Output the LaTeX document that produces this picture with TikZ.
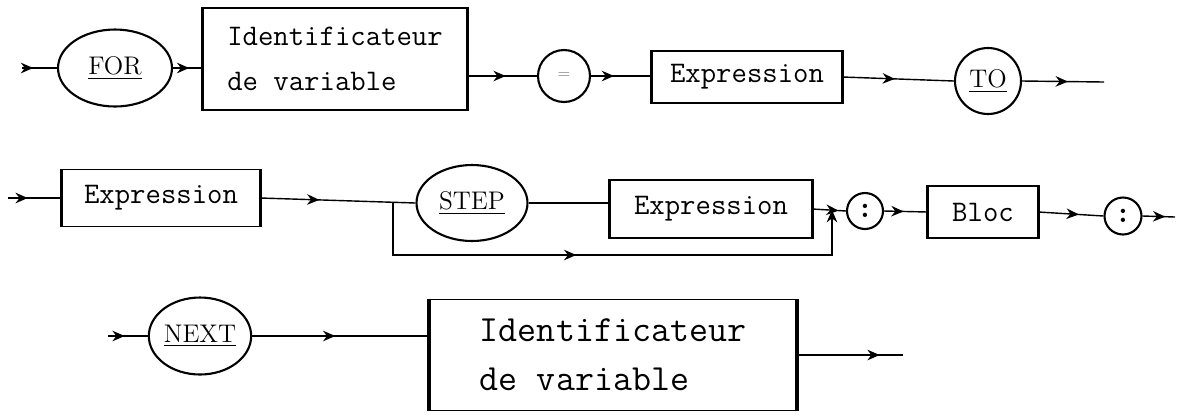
\documentclass[tikz,border=0pt]{standalone}
\usepackage{tikz}
\usetikzlibrary{shapes.geometric,arrows.meta,decorations.markings}

\begin{document}
\begin{tikzpicture}[x=0.02cm,y=-0.02cm,line width=0.8pt,
		fleche/.style={postaction={decorate},decoration={markings,
			mark=at position #1 with {\arrow{Stealth[length=7pt,width=6pt]}}}},
		fleche/.default=0.5]
		\tikzstyle{motcle}=[ellipse,draw,line width=1.2pt,inner sep=0pt,font=\fontsize{14.5}{16}\selectfont]
		\tikzstyle{rond}=[circle,draw,line width=1.2pt,inner sep=0pt]
		\tikzstyle{deuxpoints}=[rond,font=\fontsize{17}{17}\selectfont\bfseries]
		\tikzstyle{boite}=[rectangle,draw,line width=0.6pt,inner sep=0pt,align=left,
			font=\ttfamily\fontsize{17}{26}\selectfont]
		
		\useasboundingbox (0,0) rectangle (1177,414);
		
		% FOR ... = ... TO
		\node[motcle,minimum width=2.28cm,minimum height=1.54cm] (for) at (115,68) {\underline{FOR}};
		\node[boite,minimum width=5.28cm,minimum height=2.04cm] (id1) at (335,59) {Identificateur\\de variable};
		\node[rond,minimum size=1.04cm,font=\small,text=gray] (eg) at (564,76) {$=$};
		\node[boite,minimum width=3.8cm,minimum height=1.04cm] (ex1) at (747,77) {Expression};
		\node[rond,minimum size=1.32cm,font=\fontsize{14.5}{16}\selectfont] (to) at (988,81) {\underline{TO}};
		
		% Expression [STEP Expression] : Bloc :
		\node[boite,minimum width=3.96cm,minimum height=1.14cm] (ex2) at (161,198) {Expression};
		\node[motcle,minimum width=2.22cm,minimum height=1.52cm] (step) at (472,203) {\underline{STEP}};
		\node[boite,minimum width=4.04cm,minimum height=1.16cm] (ex3) at (711,209) {Expression};
		\node[deuxpoints,minimum size=0.72cm] (dp1) at (865,211) {:};
		\node[boite,minimum width=2.2cm,minimum height=1.04cm] (bloc) at (983,212) {Bloc};
		\node[deuxpoints,minimum size=0.74cm] (dp2) at (1123,216) {:};
		
		% NEXT ...
		\node[motcle,minimum width=1.8cm,minimum height=1.54cm] (next) at (200,336) {\underline{NEXT}};
		\node[boite,minimum width=7.34cm,minimum height=2.22cm,
			font=\ttfamily\fontsize{21}{28}\selectfont] (id2) at (613,355) {Identificateur\\de variable};
		
		% bords verticaux epais des boites
		\foreach \b in {id1,ex1,ex2,ex3,bloc,id2}
			\draw[line width=1.8pt] (\b.north west) -- (\b.south west) (\b.north east) -- (\b.south east);
		
		\coordinate (e1) at (22,68);
		\coordinate (s1) at (1104,82);
		\coordinate (e2) at (8,198);
		\coordinate (fourche) at (393,202);
		\coordinate (jonction) at (832,210);
		\coordinate (s2) at (1175,217);
		\coordinate (e3) at (108,336);
		\coordinate (s3) at (903,355);
		
		\draw[fleche=0.32] (e1) -- (for.west);
		\draw[fleche=0.55] (for.east) -- (for.east -| id1.west);
		\draw[fleche=0.55] (eg.west -| id1.east) -- (eg.west);
		\draw[fleche=0.38] (eg.east) -- (eg.east -| ex1.west);
		\draw[fleche=0.47] (ex1.east) -- (to.west);
		\draw[fleche=0.56] (to.east) -- (s1);
		
		\draw[fleche=0.37] (e2) -- (e2 -| ex2.west);
		\draw[fleche=0.38] (ex2.east) -- (step.west);
		\draw (step.east) -- (step.east -| ex3.west);
		\draw[fleche=0.44,-{Stealth[length=7pt,width=6pt]}] (fourche) -- ++(0,53) -| (jonction);
		\draw[fleche=0.78] (ex3.east) -- (dp1.west);
		\draw[fleche=0.45] (dp1.east) -- (bloc.west);
		\draw[fleche=0.62] (bloc.east) -- (dp2.west);
		\draw[fleche=0.7] (dp2.east) -- (s2);
		
		\draw[fleche=0.42] (e3) -- (next.west);
		\draw[fleche=0.47] (next.east) -- (next.east -| id2.west);
		\draw[fleche=0.78] (id2.east) -- (s3);
\end{tikzpicture}
\end{document}
